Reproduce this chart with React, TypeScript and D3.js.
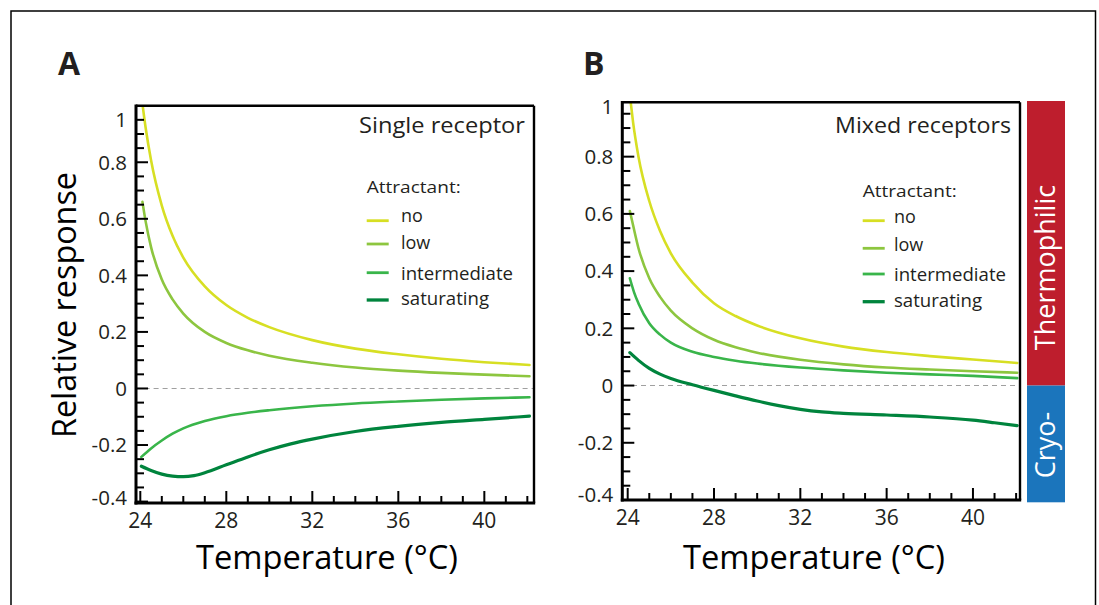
import React from "react";
import * as d3 from "d3";

type Pt = [number, number];

// ---------- data ----------
const seriesNames = ["no", "low", "intermediate", "saturating"];
const seriesColors = ["#d7df23", "#8dc63f", "#39b54a", "#00843d"];

const xTickValues = [24, 28, 32, 36, 40];
const xTickLabels = ["24", "28", "32", "36", "40"];
const xMinorTicks = [25, 26, 27, 29, 30, 31, 33, 34, 35, 37, 38, 39, 41, 42];
const yTickValues = [-0.4, -0.2, 0, 0.2, 0.4, 0.6, 0.8];
const yTickLabels = ["-0.4", "-0.2", "0", "0.2", "0.4", "0.6", "0.8"];
const yMinorTicks = [-0.35, -0.3, -0.25, -0.15, -0.1, -0.05, 0.05, 0.1, 0.15, 0.25, 0.3, 0.35, 0.45, 0.5, 0.55, 0.65, 0.7, 0.75, 0.85, 0.9, 0.95];
const topTickLabel = "1";

// Panel A: single receptor
const singleNo: Pt[] = [
  [24.1, 1.006], [24.25, 0.921], [24.5, 0.807], [25, 0.647], [25.5, 0.54], [26, 0.463],
  [27, 0.361], [28, 0.295], [29, 0.25], [30, 0.217], [32, 0.171], [34, 0.141],
  [36, 0.121], [38, 0.105], [40, 0.093], [42.1, 0.083],
];
const singleLow: Pt[] = [
  [24.1, 0.66], [24.25, 0.59], [24.5, 0.5], [25, 0.385], [25.5, 0.315], [26, 0.265],
  [27, 0.2], [28, 0.161], [29, 0.135], [30, 0.116], [32, 0.091], [34, 0.074],
  [36, 0.063], [38, 0.055], [40, 0.049], [42.1, 0.043],
];
const singleIntermediate: Pt[] = [
  [24.05, -0.242], [24.5, -0.212], [25, -0.184], [25.5, -0.16], [26, -0.141], [27, -0.115],
  [28, -0.098], [29, -0.086], [30, -0.077], [32, -0.063], [34, -0.053], [36, -0.046],
  [38, -0.04], [40, -0.035], [42.1, -0.031],
];
const singleSaturating: Pt[] = [
  [24.05, -0.275], [24.5, -0.29], [25, -0.303], [25.5, -0.31], [26, -0.312], [26.5, -0.308],
  [27, -0.298], [28, -0.27], [29, -0.242], [30, -0.217], [31, -0.196], [32, -0.179],
  [34, -0.152], [36, -0.134], [38, -0.12], [40, -0.109], [42.1, -0.098],
];

// Panel B: mixed receptors
const mixedNo: Pt[] = [
  [24.14, 0.99], [24.25, 0.92], [24.5, 0.8], [25, 0.645], [25.5, 0.54], [26, 0.462],
  [27, 0.36], [28, 0.288], [29, 0.243], [30, 0.21], [32, 0.165], [34, 0.136],
  [36, 0.117], [38, 0.103], [40, 0.091], [42.05, 0.079],
];
const mixedLow: Pt[] = [
  [24.1, 0.61], [24.25, 0.56], [24.5, 0.48], [25, 0.375], [25.5, 0.31], [26, 0.262],
  [27, 0.2], [28, 0.16], [29, 0.134], [30, 0.115], [32, 0.09], [34, 0.074],
  [36, 0.063], [38, 0.056], [40, 0.05], [42.05, 0.045],
];
const mixedIntermediate: Pt[] = [
  [24.1, 0.375], [24.3, 0.325], [24.5, 0.287], [25, 0.218], [25.5, 0.178], [26, 0.15],
  [27, 0.118], [28, 0.1], [29, 0.087], [30, 0.077], [32, 0.063], [34, 0.053],
  [36, 0.045], [38, 0.039], [40, 0.034], [42.05, 0.026],
];
const mixedSaturating: Pt[] = [
  [24.1, 0.115], [24.5, 0.088], [25, 0.06], [25.5, 0.04], [26, 0.025], [27, 0.003],
  [28, -0.017], [29, -0.036], [30, -0.054], [31, -0.07], [32, -0.083], [33, -0.092],
  [34, -0.097], [36, -0.103], [38, -0.11], [40, -0.121], [41, -0.13], [42.05, -0.14],
];

const sideLabels = ["Thermophilic", "Cryo-"];

// ---------- layout ----------
const FONT = "'Open Sans', 'Noto Sans', sans-serif";
const TXT = "#231f20";

interface PanelCfg {
  id: string;
  letter: string;
  letterX: number;
  box: { left: number; right: number; top: number; bottom: number };
  xDomain: [number, number];
  yDomain: [number, number];
  topLabelPos: number;
  series: Pt[][];
  title: string;
  titleRight: number;
  titleLen: number;
  attrX: number;
  attrBase: number;
  legendLineX: number;
  legendTextX: number;
  legendLineY: number[];
  legendBase: number[];
  legendLens: number[];
  xTitleCenter: number;
}

const panels: PanelCfg[] = [
  {
    id: "A",
    letter: "A",
    letterX: 58,
    box: { left: 136, right: 534, top: 105.7, bottom: 503 },
    xDomain: [23.8, 42.31],
    yDomain: [-0.405, 1.0],
    topLabelPos: 0.95,
    series: [singleNo, singleLow, singleIntermediate, singleSaturating],
    title: "Single receptor",
    titleRight: 525,
    titleLen: 166,
    attrX: 366.7,
    attrBase: 193.3,
    legendLineX: 366.7,
    legendTextX: 401,
    legendLineY: [220.7, 244, 272.7, 300],
    legendBase: [222, 249.3, 279.5, 305],
    legendLens: [22, 33, 112, 88],
    xTitleCenter: 327,
  },
  {
    id: "B",
    letter: "B",
    letterX: 583,
    box: { left: 622.3, right: 1020, top: 102.3, bottom: 500 },
    xDomain: [23.75, 42.18],
    yDomain: [-0.4, 0.99],
    topLabelPos: 0.975,
    series: [mixedNo, mixedLow, mixedIntermediate, mixedSaturating],
    title: "Mixed receptors",
    titleRight: 1011,
    titleLen: 176,
    attrX: 862.7,
    attrBase: 196.7,
    legendLineX: 862.7,
    legendTextX: 894,
    legendLineY: [220.7, 248.3, 274, 301.7],
    legendBase: [222.7, 250.7, 281, 307],
    legendLens: [22, 33, 112, 88],
    xTitleCenter: 814,
  },
];

function Panel({ cfg }: { cfg: PanelCfg }) {
  const { box } = cfg;
  const x = d3.scaleLinear().domain(cfg.xDomain).range([box.left, box.right]);
  const y = d3.scaleLinear().domain(cfg.yDomain).range([box.bottom, box.top]);
  const line = d3
    .line<Pt>()
    .x((d) => x(d[0]))
    .y((d) => y(d[1]))
    .curve(d3.curveMonotoneX);
  const clipId = `clip-${cfg.id}`;
  const labelY = (v: number) => Math.min(y(v), box.bottom - 5);

  return (
    <g>
      <defs>
        <clipPath id={clipId}>
          <rect x={box.left} y={box.top} width={box.right - box.left} height={box.bottom - box.top} />
        </clipPath>
      </defs>

      {/* zero reference */}
      <line
        x1={x(24.2)}
        x2={box.right}
        y1={y(0)}
        y2={y(0)}
        stroke="#a0a0a0"
        strokeWidth={1.1}
        strokeDasharray="5,4"
      />

      {/* curves */}
      <g clipPath={`url(#${clipId})`}>
        {cfg.series.map((s, i) => (
          <path
            key={i}
            d={line(s) || ""}
            fill="none"
            stroke={seriesColors[i]}
            strokeWidth={i === 3 ? 3.2 : 2.6}
            strokeLinecap="round"
          />
        ))}
      </g>

      {/* frame */}
      <line x1={box.left} x2={box.right} y1={box.top} y2={box.top} stroke="#000" strokeWidth={2.6} />
      <line x1={box.right} x2={box.right} y1={box.top} y2={box.bottom} stroke="#000" strokeWidth={2.4} />
      <line x1={box.left} x2={box.left} y1={box.top - 1.3} y2={box.bottom + 1.5} stroke="#000" strokeWidth={3} />
      <line x1={box.left - 1.5} x2={box.right + 1.2} y1={box.bottom} y2={box.bottom} stroke="#000" strokeWidth={3} />

      {/* y ticks */}
      {yTickValues.map((v) => (
        <line key={"ym" + v} x1={box.left} x2={box.left + 12} y1={y(v)} y2={y(v)} stroke="#000" strokeWidth={2} />
      ))}
      {yMinorTicks.map((v) => (
        <line key={"yn" + v} x1={box.left} x2={box.left + 8} y1={y(v)} y2={y(v)} stroke="#000" strokeWidth={2} />
      ))}
      {yTickValues.map((v, i) => (
        <text
          key={"yl" + v}
          x={box.left - 9}
          y={labelY(v)}
          dy="0.36em"
          textAnchor="end"
          fontSize={20.5}
          fontFamily={FONT}
          fill={TXT}
        >
          {yTickLabels[i]}
        </text>
      ))}
      <text
        x={box.left - 9}
        y={y(cfg.topLabelPos)}
        dy="0.36em"
        textAnchor="end"
        fontSize={20.5}
        fontFamily={FONT}
        fill={TXT}
      >
        {topTickLabel}
      </text>

      {/* x ticks */}
      {xTickValues.map((v) => (
        <line key={"xm" + v} x1={x(v)} x2={x(v)} y1={box.bottom} y2={box.bottom - 12} stroke="#000" strokeWidth={2} />
      ))}
      {xMinorTicks.map((v) => (
        <line key={"xn" + v} x1={x(v)} x2={x(v)} y1={box.bottom} y2={box.bottom - 7} stroke="#000" strokeWidth={2} />
      ))}
      {xTickLabels.map((lab, i) => (
        <text
          key={"xl" + lab}
          x={x(xTickValues[i])}
          y={box.bottom + 25}
          textAnchor="middle"
          fontSize={21}
          fontFamily={FONT}
          fill={TXT}
        >
          {lab}
        </text>
      ))}

      {/* axis title */}
      <text
        x={cfg.xTitleCenter}
        y={569}
        textAnchor="middle"
        fontSize={32}
        fontFamily={FONT}
        fill="#000"
        textLength={262}
        lengthAdjust="spacingAndGlyphs"
      >
        Temperature (°C)
      </text>

      {/* panel letter */}
      <text x={cfg.letterX} y={75} fontSize={32} fontWeight={700} fontFamily={FONT} fill={TXT}>
        {cfg.letter}
      </text>

      {/* title & legend */}
      <text
        x={cfg.titleRight}
        y={133.3}
        textAnchor="end"
        fontSize={21}
        fontFamily={FONT}
        fill={TXT}
        textLength={cfg.titleLen}
        lengthAdjust="spacingAndGlyphs"
      >
        {cfg.title}
      </text>
      <text
        x={cfg.attrX}
        y={cfg.attrBase}
        fontSize={17}
        fontFamily={FONT}
        fill={TXT}
        textLength={94}
        lengthAdjust="spacingAndGlyphs"
      >
        Attractant:
      </text>
      {seriesNames.map((n, i) => (
        <g key={n}>
          <line
            x1={cfg.legendLineX}
            x2={cfg.legendLineX + 22}
            y1={cfg.legendLineY[i]}
            y2={cfg.legendLineY[i]}
            stroke={seriesColors[i]}
            strokeWidth={i === 3 ? 3.3 : 2.8}
          />
          <text
            x={cfg.legendTextX}
            y={cfg.legendBase[i]}
            fontSize={18}
            fontFamily={FONT}
            fill={TXT}
            textLength={i >= 2 ? cfg.legendLens[i] : undefined}
            lengthAdjust="spacingAndGlyphs"
          >
            {n}
          </text>
        </g>
      ))}
    </g>
  );
}

export default function App() {
  const bPanel = panels[1];
  const yB = d3.scaleLinear().domain(bPanel.yDomain).range([bPanel.box.bottom, bPanel.box.top]);
  const barLeft = 1027;
  const barRight = 1065;
  const barTop = 101;
  const barBottom = 502.3;
  const split = yB(0);
  return (
    <div>
      <style>{`body{margin:0;background:#fff}`}</style>
      <svg width={1099} height={605} style={{ display: "block" }}>
        <rect x={0} y={0} width={1099} height={605} fill="#fff" />
        <rect x={11} y={11} width={1084.5} height={640} fill="none" stroke="#000" strokeWidth={1.5} />

        {panels.map((p) => (
          <Panel key={p.id} cfg={p} />
        ))}

        {/* y axis title */}
        <text
          transform="translate(76,305) rotate(-90)"
          textAnchor="middle"
          fontSize={32}
          fontFamily={FONT}
          fill="#000"
          textLength={266}
          lengthAdjust="spacingAndGlyphs"
        >
          Relative response
        </text>

        {/* side bar */}
        <rect x={barLeft} y={barTop} width={barRight - barLeft} height={split - barTop} fill="#be1e2d" />
        <rect x={barLeft} y={split} width={barRight - barLeft} height={barBottom - split} fill="#1b75bc" />
        <text
          transform={`translate(1055,267.5) rotate(-90)`}
          textAnchor="middle"
          fontSize={27}
          fontFamily={FONT}
          fill="#fff"
        >
          {sideLabels[0]}
        </text>
        <text
          transform={`translate(1055,445) rotate(-90)`}
          textAnchor="middle"
          fontSize={27}
          fontFamily={FONT}
          fill="#fff"
        >
          {sideLabels[1]}
        </text>
      </svg>
    </div>
  );
}
